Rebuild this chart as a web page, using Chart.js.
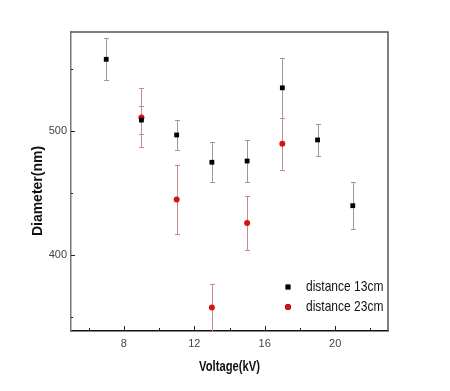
<!DOCTYPE html>
<html>
<head>
<meta charset="utf-8">
<script src="https://cdn.jsdelivr.net/npm/chart.js@4.4.1/dist/chart.umd.min.js"></script>
<style>
  html, body { margin: 0; padding: 0; background: #fff; }
  #wrap { width: 450px; height: 391px; }
</style>
</head>
<body>
<div id="wrap"><canvas id="chart" width="450" height="391"></canvas></div>
<script>
// Voltage (kV) for each series
const voltage13 = [7, 9, 11, 13, 15, 17, 19, 21];
const voltage23 = [9, 11, 13, 15, 17];

// Mean diameter (nm) and error (nm)
const diameter13 = [558, 509, 497, 475, 476, 535, 493, 440];
const error13 = [17, 11, 12, 16, 17, 24, 13, 19];
const diameter23 = [511, 445, 358, 426, 490];
const error23 = [24, 28, 19, 22, 21];

const seriesLabels = ['distance 13cm', 'distance 23cm'];
const xTicks = [6, 8, 10, 12, 14, 16, 18, 20, 22];
const yTicks = [350, 400, 450, 500, 550];
const xTitle = 'Voltage(kV)';
const yTitle = 'Diameter(nm)';

const FONT = "'Liberation Sans', Arial, sans-serif";
const SQUEEZE = 0.8; // the original lettering is horizontally narrow

// error bars drawn under the markers
const errorBars = {
  id: 'errorBars',
  beforeDatasetsDraw(chart) {
    const {ctx, chartArea, scales: {x, y}} = chart;
    ctx.save();
    ctx.beginPath();
    ctx.rect(chartArea.left, chartArea.top, chartArea.width, chartArea.height);
    ctx.clip();
    chart.data.datasets.forEach(ds => {
      ctx.strokeStyle = ds.errorColor;
      ctx.lineWidth = 1;
      ds.data.forEach((p, i) => {
        const px = Math.round(x.getPixelForValue(p.x)) + 0.5;
        const top = y.getPixelForValue(p.y + ds.errors[i]);
        const bot = y.getPixelForValue(p.y - ds.errors[i]);
        ctx.beginPath();
        ctx.moveTo(px, top);
        ctx.lineTo(px, bot);
        ctx.moveTo(px - 2.5, Math.round(top) + 0.5);
        ctx.lineTo(px + 2.5, Math.round(top) + 0.5);
        ctx.moveTo(px - 2.5, Math.round(bot) + 0.5);
        ctx.lineTo(px + 2.5, Math.round(bot) + 0.5);
        ctx.stroke();
      });
    });
    ctx.restore();
  }
};

function drawText(ctx, text, cx, cy, rotate, squeeze) {
  ctx.save();
  ctx.translate(cx, cy);
  if (rotate) {
    ctx.rotate(-Math.PI / 2);
  }
  ctx.scale(squeeze, 1);
  ctx.fillText(text, 0, 0);
  ctx.restore();
}

// frame, inward ticks, axis titles and legend
const decorations = {
  id: 'decorations',
  afterDraw(chart) {
    const {ctx, chartArea: a, scales: {x, y}} = chart;
    ctx.save();
    // top and right frame
    ctx.strokeStyle = '#555';
    ctx.lineWidth = 1.5;
    ctx.beginPath();
    ctx.moveTo(a.left, a.top);
    ctx.lineTo(a.right, a.top);
    ctx.lineTo(a.right, a.bottom);
    ctx.stroke();

    // inward tick marks
    ctx.strokeStyle = '#222';
    ctx.lineWidth = 1;
    ctx.beginPath();
    xTicks.forEach(v => {
      const px = Math.round(x.getPixelForValue(v)) + 0.5;
      const len = v % 4 === 0 ? 5 : 3;
      ctx.moveTo(px, a.bottom);
      ctx.lineTo(px, a.bottom - len);
    });
    yTicks.forEach(v => {
      const py = Math.round(y.getPixelForValue(v)) + 0.5;
      const len = v % 100 === 0 ? 4 : 2;
      ctx.moveTo(a.left, py);
      ctx.lineTo(a.left + len, py);
    });
    ctx.stroke();

    // axis titles
    ctx.fillStyle = '#111';
    ctx.font = 'bold 14px ' + FONT;
    ctx.textAlign = 'center';
    ctx.textBaseline = 'middle';
    drawText(ctx, xTitle, (a.left + a.right) / 2, 367, false, SQUEEZE);
    drawText(ctx, yTitle, 38, 191, true, 1);

    // legend
    ctx.font = '15px ' + FONT;
    ctx.textAlign = 'left';
    chart.data.datasets.forEach((ds, i) => {
      const cy = 287 + i * 20;
      Chart.helpers.drawPoint(ctx, {
        pointStyle: ds.pointStyle,
        radius: ds.pointRadius,
        rotation: 0,
        borderWidth: 0
      }, 288, cy);
      ctx.fillStyle = ds.backgroundColor;
      ctx.fill();
      ctx.fillStyle = '#111';
      drawText(ctx, ds.label, 306, cy, false, SQUEEZE);
    });
    ctx.restore();
  }
};

new Chart(document.getElementById('chart'), {
  type: 'scatter',
  data: {
    datasets: [
      {
        label: seriesLabels[0],
        data: voltage13.map((v, i) => ({x: v, y: diameter13[i]})),
        errors: error13,
        errorColor: '#9a9a9a',
        pointStyle: 'rect',
        pointRadius: 3.4,
        backgroundColor: '#000',
        borderColor: '#000',
        borderWidth: 0
      },
      {
        label: seriesLabels[1],
        data: voltage23.map((v, i) => ({x: v, y: diameter23[i]})),
        errors: error23,
        errorColor: '#c98a8a',
        pointStyle: 'circle',
        pointRadius: 3,
        backgroundColor: '#d41414',
        borderColor: '#d41414',
        borderWidth: 0
      }
    ]
  },
  options: {
    responsive: false,
    animation: false,
    events: [],
    layout: { padding: { top: 32, right: 62, left: 0, bottom: 0 } },
    plugins: {
      legend: { display: false },
      tooltip: { enabled: false }
    },
    scales: {
      x: {
        type: 'linear',
        min: 5,
        max: 23,
        afterFit(scale) { scale.height = 60; },
        afterBuildTicks(scale) { scale.ticks = xTicks.map(v => ({value: v})); },
        grid: { display: false, drawTicks: false },
        border: { display: true, color: '#111', width: 1.5 },
        ticks: {
          padding: 6,
          color: '#444',
          font: { family: FONT, size: 11 },
          callback: v => (v % 4 === 0 ? v : '')
        }
      },
      y: {
        type: 'linear',
        min: 339,
        max: 580,
        afterFit(scale) { scale.width = 71; },
        afterBuildTicks(scale) { scale.ticks = yTicks.map(v => ({value: v})); },
        grid: { display: false, drawTicks: false },
        border: { display: true, color: '#777', width: 1.5 },
        ticks: {
          padding: 4,
          color: '#444',
          font: { family: FONT, size: 11 },
          callback: v => (v % 100 === 0 ? v : '')
        }
      }
    }
  },
  plugins: [errorBars, decorations]
});
</script>
</body>
</html>
